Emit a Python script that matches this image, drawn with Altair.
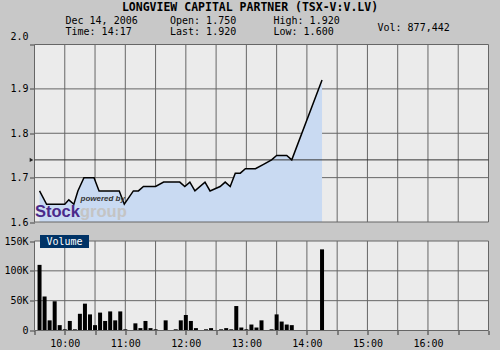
import altair as alt
import pandas as pd

# ---------------- text ----------------
TITLE = "LONGVIEW CAPITAL PARTNER (TSX-V:V.LV)"
INFO_DATE = "Dec 14, 2006"
INFO_TIME = "Time: 14:17"
INFO_OPEN = "Open: 1.750"
INFO_LAST = "Last: 1.920"
INFO_HIGH = "High: 1.920"
INFO_LOW = "Low: 1.600"
INFO_VOL = "Vol: 877,442"
VOLUME_LABEL = "Volume"

# ---------------- price data ----------------
price_times = ["9:35", "9:42", "10:00", "10:04", "10:09", "10:13", "10:19", "10:29", "10:34",
               "10:54", "10:59", "11:08", "11:13", "11:18", "11:30", "11:38", "11:54", "11:59",
               "12:04", "12:09", "12:19", "12:24", "12:29", "12:34", "12:39", "12:44", "12:49",
               "12:54", "12:59", "13:09", "13:17", "13:25", "13:30", "13:40", "13:45", "14:15"]
price_values = [1.67, 1.64, 1.64, 1.65, 1.64, 1.67, 1.70, 1.70, 1.67,
                1.67, 1.64, 1.67, 1.67, 1.68, 1.68, 1.69, 1.69, 1.68,
                1.69, 1.67, 1.69, 1.67, 1.675, 1.68, 1.69, 1.68, 1.71,
                1.71, 1.72, 1.72, 1.73, 1.74, 1.75, 1.75, 1.74, 1.92]
PREV_CLOSE = 1.74

# ---------------- volume data ----------------
vol_times = ["9:35", "9:40", "9:45", "9:50", "9:55", "10:00", "10:05", "10:10", "10:15", "10:20",
             "10:25", "10:30", "10:35", "10:40", "10:45", "10:50", "10:55", "11:00", "11:10",
             "11:15", "11:20", "11:25", "11:30", "11:40", "11:50", "11:55", "12:00", "12:05",
             "12:10", "12:20", "12:25", "12:35", "12:40", "12:45", "12:50", "12:55", "13:00",
             "13:05", "13:10", "13:15", "13:25", "13:30", "13:35", "13:40", "13:45", "14:15"]
vol_values = [110000, 57000, 17000, 49000, 9000, 2000, 16000, 2000, 28000, 45000,
              27000, 9000, 30000, 16000, 32000, 17000, 32000, 2000, 12000,
              4000, 16000, 4000, 2000, 17000, 2000, 17000, 26000, 16000,
              4000, 2000, 4000, 2000, 4000, 2000, 41000, 5000, 2000,
              10000, 5000, 17000, 2000, 27000, 15000, 10000, 9000, 136000]

# ---------------- axes ----------------
T_START, T_END = "9:30", "17:00"
x_ticks = ["9:30", "10:00", "10:30", "11:00", "11:30", "12:00", "12:30", "13:00", "13:30",
           "14:00", "14:30", "15:00", "15:30", "16:00", "16:30", "17:00"]
x_labeled = ["10:00", "11:00", "12:00", "13:00", "14:00", "15:00", "16:00"]
price_ticks = [1.6, 1.7, 1.8, 1.9, 2.0]
price_grid = [1.7, 1.8, 1.9]
P_MIN, P_MAX = 1.6, 2.0
vol_ticks = [0, 50000, 100000, 150000]
vol_grid = [50000, 100000]
V_MIN, V_MAX = 0, 150000


def to_min(s):
    h, m = s.split(":")
    return int(h) * 60 + int(m)


t0, t1 = to_min(T_START), to_min(T_END)
grid_times = [to_min(s) for s in x_ticks[1:-1]]

W, H = 454, 286
P_RANGE = [177.5, 0]
V_RANGE = [286, 196.5]

MONO = "DejaVu Sans Mono"
GRID = "#666666"
PLOT_BG = "#ebebeb"
AREA = "#c9daf2"

labeled_vals = [to_min(s) for s in x_labeled]
XS = alt.Scale(domain=[t0, t1], nice=False, zero=False, padding=0)
XA = alt.Axis(values=[to_min(s) for s in x_ticks],
              labelExpr=f"indexof({labeled_vals}, datum.value) >= 0 ? floor(datum.value / 60) + ':00' : ''",
              grid=False, domain=False, tickSize=4, tickColor="#333333", labelFont=MONO,
              labelFontSize=10, labelColor="#000000", labelPadding=4, title=None,
              labelOverlap=False, labelFlush=False)

PS = alt.Scale(domain=[P_MIN, P_MAX], range=P_RANGE, nice=False, zero=False, padding=0)
PA = alt.Axis(orient="left", values=price_ticks, format=".1f", grid=False, domain=False,
              tickSize=5, tickColor="#444444", labelFont=MONO, labelFontSize=10,
              labelColor="#000000", labelPadding=1.5, title=None,
              labelOffset={"condition": {"test": "datum.value >= 2", "value": -8}, "value": 0})

VS = alt.Scale(domain=[V_MIN, V_MAX], range=V_RANGE, nice=False, zero=True, padding=0)
VA = alt.Axis(orient="left", values=vol_ticks,
              labelExpr="datum.value == 0 ? '0' : (datum.value / 1000) + 'K'",
              grid=False, domain=False, tickSize=5, tickColor="#444444", labelFont=MONO,
              labelFontSize=10, labelColor="#000000", labelPadding=1.5, title=None)


def X(f):
    return alt.X(f"{f}:Q", scale=XS, axis=XA)


def YP(f):
    return alt.Y(f"{f}:Q", scale=PS, axis=PA)


def YV(f):
    return alt.Y(f"{f}:Q", scale=VS, axis=VA)


one = pd.DataFrame({"k": [0]})

price_df = pd.DataFrame({"t": [to_min(s) for s in price_times], "p": price_values, "base": P_MIN})
vol_df = pd.DataFrame({"t": [to_min(s) for s in vol_times], "v": vol_values})

# ---------------- price panel ----------------
p_box = pd.DataFrame({"a": [t0], "b": [t1], "lo": [P_MIN], "hi": [P_MAX]})
bg_p = alt.Chart(p_box).mark_rect(fill=PLOT_BG, strokeWidth=0).encode(
    x=X("a"), x2="b", y=YP("lo"), y2="hi")
vgrid_p = alt.Chart(pd.DataFrame({"t": grid_times, "lo": P_MIN, "hi": P_MAX})).mark_rule(
    color=GRID, strokeWidth=1).encode(x=X("t"), y=YP("lo"), y2="hi")
hgrid_p = alt.Chart(pd.DataFrame({"p": price_grid, "a": t0, "b": t1})).mark_rule(
    color=GRID, strokeWidth=1).encode(x=X("a"), x2="b", y=YP("p"))
area = alt.Chart(price_df).mark_area(color=AREA, opacity=1, interpolate="linear").encode(
    x=X("t"), y=YP("p"), y2="base")
frame_p = alt.Chart(p_box).mark_rect(fillOpacity=0, stroke=GRID, strokeWidth=1).encode(
    x=X("a"), x2="b", y=YP("lo"), y2="hi")
prev_line = alt.Chart(pd.DataFrame({"p": [PREV_CLOSE], "a": [t0], "b": [t1]})).mark_rule(
    color="#333333", strokeWidth=1).encode(x=X("a"), x2="b", y=YP("p"))
marker = alt.Chart(pd.DataFrame({"p": [PREV_CLOSE], "a": [t0]})).mark_point(
    shape="triangle-right", filled=True, size=18, color="#222222", opacity=1, xOffset=-3).encode(
    x=X("a"), y=YP("p"))
line = alt.Chart(price_df).mark_line(color="#000000", strokeWidth=1.5, interpolate="linear").encode(
    x=X("t"), y=YP("p"))

logo_pow = alt.Chart(one).mark_text(text="powered by", font="Liberation Sans", fontStyle="italic",
                                    fontWeight="bold", fontSize=8, color="#333333",
                                    align="left", baseline="middle").encode(
    x=alt.value(46), y=alt.value(154))
logo_stock = alt.Chart(one).mark_text(text="Stock", font="Liberation Sans", fontWeight="bold",
                                      fontSize=16.5, color="#4a2a8a", align="left",
                                      baseline="alphabetic").encode(
    x=alt.value(0.5), y=alt.value(172))
logo_group = alt.Chart(one).mark_text(text="group", font="Liberation Sans", fontWeight="bold",
                                      fontSize=16.5, color="#c4c4c4", align="left",
                                      baseline="alphabetic").encode(
    x=alt.value(45.5), y=alt.value(172))

price_layer = alt.layer(bg_p, vgrid_p, hgrid_p, area, frame_p, prev_line, marker, line,
                        logo_pow, logo_stock, logo_group)

# ---------------- volume panel ----------------
v_box = pd.DataFrame({"a": [t0], "b": [t1], "lo": [V_MIN], "hi": [V_MAX]})
bg_v = alt.Chart(v_box).mark_rect(fill=PLOT_BG, strokeWidth=0).encode(
    x=X("a"), x2="b", y=YV("lo"), y2="hi")
vgrid_v = alt.Chart(pd.DataFrame({"t": grid_times, "lo": V_MIN, "hi": V_MAX})).mark_rule(
    color=GRID, strokeWidth=1).encode(x=X("t"), y=YV("lo"), y2="hi")
hgrid_v = alt.Chart(pd.DataFrame({"v": vol_grid, "a": t0, "b": t1})).mark_rule(
    color=GRID, strokeWidth=1).encode(x=X("a"), x2="b", y=YV("v"))
bars = alt.Chart(vol_df).mark_bar(size=4, color="#000000").encode(x=X("t"), y=YV("v"))
frame_v = alt.Chart(v_box).mark_rect(fillOpacity=0, stroke=GRID, strokeWidth=1).encode(
    x=X("a"), x2="b", y=YV("lo"), y2="hi")
vol_box = alt.Chart(one).mark_rect(color="#003366").encode(
    x=alt.value(5.5), x2=alt.value(54.5), y=alt.value(190.5), y2=alt.value(203.5))
vol_text = alt.Chart(one).mark_text(text=VOLUME_LABEL, font=MONO, fontSize=10, color="#ffffff",
                                    align="center", baseline="middle").encode(
    x=alt.value(30), y=alt.value(197.5))

vol_layer = alt.layer(bg_v, vgrid_v, hgrid_v, bars, frame_v, vol_box, vol_text)

# ---------------- header ----------------
def htext(txt, x, y, align="left", bold=False, size=10):
    return alt.Chart(one).mark_text(text=txt, font=MONO, fontSize=size,
                                    fontWeight="bold" if bold else "normal",
                                    color="#000000", align=align, baseline="middle").encode(
        x=alt.value(x), y=alt.value(y))


header = alt.layer(
    htext(TITLE, 215.5, -37, align="center", bold=True, size=11.5),
    htext(INFO_DATE, 31, -23.5),
    htext(INFO_TIME, 31, -12.5),
    htext(INFO_OPEN, 135.5, -23.5),
    htext(INFO_LAST, 135.5, -12.5),
    htext(INFO_HIGH, 239, -23.5),
    htext(INFO_LOW, 239, -12.5),
    htext(INFO_VOL, 343, -17),
)

chart = alt.layer(price_layer, vol_layer, header).resolve_scale(y="independent").properties(
    width=W, height=H,
    autosize=alt.AutoSizeParams(type="none"),
    padding={"left": 34.5, "top": 44.5, "right": 11.5, "bottom": 19.5},
).configure(background="#c8c8c8").configure_view(stroke=None)

chart.save("out.html", embed_options={"renderer": "svg", "actions": False})
